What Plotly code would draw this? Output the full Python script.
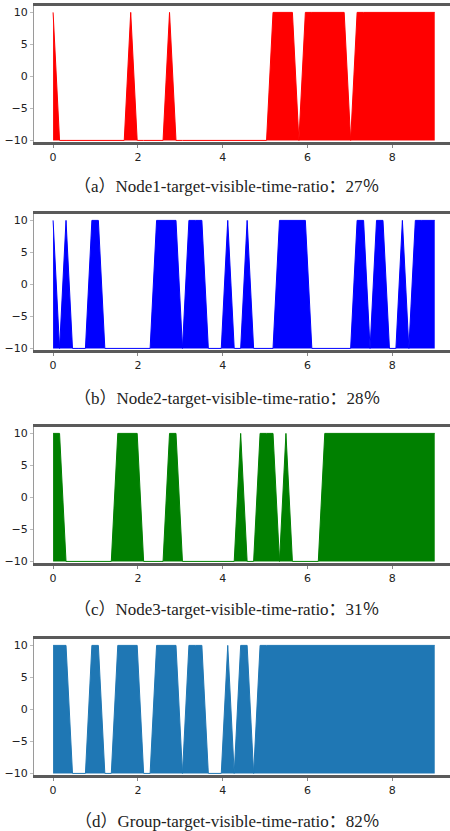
import numpy as np
import plotly.graph_objects as go

# sampling grid (60 samples over 0..9 s)
t = np.linspace(0, 9, 60)

node1 = [10, -10, -10, -10, -10, -10, -10, -10, -10, -10,
         -10, -10, 10, -10, -10, -10, -10, -10, 10, -10,
         -10, -10, -10, -10, -10, -10, -10, -10, -10, -10,
         -10, -10, -10, -10, 10, 10, 10, 10, -10, 10,
         10, 10, 10, 10, 10, 10, -10, 10, 10, 10,
         10, 10, 10, 10, 10, 10, 10, 10, 10, 10]

node2 = [10, -10, 10, -10, -10, -10, 10, 10, -10, -10,
         -10, -10, -10, -10, -10, -10, 10, 10, 10, 10,
         -10, 10, 10, 10, -10, -10, -10, 10, -10, -10,
         10, -10, -10, -10, -10, 10, 10, 10, 10, 10,
         -10, -10, -10, -10, -10, -10, -10, 10, 10, -10,
         10, 10, -10, -10, 10, -10, 10, 10, 10, 10]

node3 = [10, 10, -10, -10, -10, -10, -10, -10, -10, -10,
         10, 10, 10, 10, -10, -10, -10, -10, 10, 10,
         -10, -10, -10, -10, -10, -10, -10, -10, -10, 10,
         -10, -10, 10, 10, 10, -10, 10, -10, -10, -10,
         -10, -10, 10, 10, 10, 10, 10, 10, 10, 10,
         10, 10, 10, 10, 10, 10, 10, 10, 10, 10]

group = [10, 10, 10, -10, -10, -10, 10, 10, -10, -10,
         10, 10, 10, 10, -10, -10, 10, 10, 10, 10,
         -10, 10, 10, 10, -10, -10, -10, 10, -10, 10,
         10, -10, 10, 10, 10, 10, 10, 10, 10, 10,
         10, 10, 10, 10, 10, 10, 10, 10, 10, 10,
         10, 10, 10, 10, 10, 10, 10, 10, 10, 10]

baseline = -10
x_ticks = [0, 2, 4, 6, 8]
y_ticks = [-10, -5, 0, 5, 10]

captions = [
    "（a）Node1-target-visible-time-ratio：27％",
    "（b）Node2-target-visible-time-ratio：28％",
    "（c）Node3-target-visible-time-ratio：31％",
    "（d）Group-target-visible-time-ratio：82％",
]
series = [node1, node2, node3, group]
colors = ["#ff0000", "#0000ff", "#008000", "#1f77b4"]

W, H = 450, 831
panel_tops = [6, 214, 427, 639]
panel_h = 135.7
caption_y = [187, 399, 609, 821]
x_left, x_right = 34, 450

fig = go.Figure()
layout = dict(
    width=W, height=H,
    margin=dict(l=0, r=0, t=0, b=0, autoexpand=False),
    paper_bgcolor="white", plot_bgcolor="white",
    showlegend=False,
    annotations=[],
)

for k, (vals, col) in enumerate(zip(series, colors)):
    xa = "x" if k == 0 else f"x{k+1}"
    ya = "y" if k == 0 else f"y{k+1}"
    fig.add_trace(go.Scatter(x=t, y=[baseline] * len(t), mode="lines",
                             line=dict(width=0, color=col), xaxis=xa, yaxis=ya,
                             hoverinfo="skip"))
    fig.add_trace(go.Scatter(x=t, y=vals, mode="lines", fill="tonexty",
                             fillcolor=col, line=dict(width=1, color=col),
                             xaxis=xa, yaxis=ya))
    top = panel_tops[k]
    bot = top + panel_h
    xkey = "xaxis" if k == 0 else f"xaxis{k+1}"
    ykey = "yaxis" if k == 0 else f"yaxis{k+1}"
    layout[xkey] = dict(
        domain=[x_left / W, x_right / W],
        range=[-0.45, 9.36],
        anchor=ya,
        automargin=False,
        tickvals=x_ticks,
        ticks="outside", ticklen=3, tickcolor="#888",
        showgrid=False, zeroline=False,
        showline=True, mirror=True, linewidth=3, linecolor="#5a5a5a",
        tickfont=dict(family="DejaVu Sans", size=11, color="#222"),
    )
    layout[ykey] = dict(
        domain=[1 - bot / H, 1 - top / H],
        range=[-10.2, 11.0],
        anchor=xa,
        automargin=False,
        tickvals=y_ticks,
        ticks="outside", ticklen=3, tickcolor="#bbb",
        showgrid=False, zeroline=False,
        showline=True, linewidth=1, linecolor="#9a9a9a",
        tickfont=dict(family="DejaVu Sans", size=11, color="#222"),
    )
    layout["annotations"].append(dict(
        text=captions[k], xref="paper", yref="paper",
        x=227 / W, y=1 - caption_y[k] / H, xanchor="center", yanchor="middle",
        showarrow=False,
        font=dict(family="Liberation Serif, Noto Sans CJK SC", size=17, color="#222"),
    ))

fig.update_layout(**layout)
fig.write_html("out.html",
               config={"displayModeBar": False},
               post_script="document.body.style.margin='0';document.body.style.overflow='hidden';")
